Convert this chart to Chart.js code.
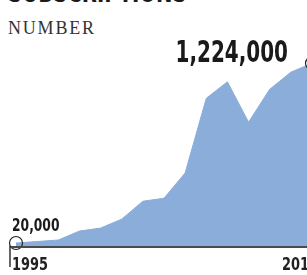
<!DOCTYPE html>
<html>
<head>
<meta charset="utf-8">
<script src="https://cdn.jsdelivr.net/npm/chart.js@4"></script>
<style>
  html, body { margin: 0; padding: 0; width: 307px; height: 275px; overflow: hidden; background: #fff; }
  #title {
    position: absolute; left: 8px; top: -21px; margin: 0;
    font: bold 27px/27px 'DejaVu Sans Condensed', 'Liberation Sans', sans-serif;
    color: #1a1a1a; white-space: nowrap;
    transform: scaleX(0.81); transform-origin: 0 0;
  }
  #unit {
    position: absolute; left: 8px; top: 19px;
    font: 18px/18px 'Liberation Serif', serif; letter-spacing: 1.8px;
    color: #333;
  }
  #growth { position: absolute; left: 0; top: 0; }
</style>
</head>
<body>
<div id="title">SUBSCRIPTIONS</div>
<div id="unit">NUMBER</div>
<canvas id="growth" width="330" height="275"></canvas>
<script>
// yearly subscriber counts
const years = ['1995', '1996', '1997', '1998', '1999', '2000', '2001', '2002',
               '2003', '2004', '2005', '2006', '2007', '2008', '2009'];
const subscribers = [20000, 30000, 40000, 100000, 120000, 180000, 300000, 320000,
                     490000, 990000, 1100000, 830000, 1050000, 1165000, 1224000];
const axisLabels = ['1995', '2010'];

const condensed = size => "bold " + size + "px 'DejaVu Sans Condensed', 'Liberation Sans', sans-serif";

// narrow text by squeezing horizontally around its anchor
function squeezeText(ctx, text, x, y, size, align, sx) {
  ctx.save();
  ctx.translate(x, y);
  ctx.scale(sx, 1);
  ctx.font = condensed(size);
  ctx.textAlign = align;
  ctx.textBaseline = 'alphabetic';
  ctx.fillText(text, 0, 0);
  ctx.restore();
}

const annotate = {
  id: 'annotate',
  afterDatasetsDraw(chart) {
    const ctx = chart.ctx;
    const area = chart.chartArea;
    const y0 = chart.scales.y.getPixelForValue(0);
    const pts = chart.getDatasetMeta(0).data;
    const first = pts[0], last = pts[pts.length - 1];

    ctx.save();
    // baseline
    ctx.strokeStyle = '#4a4a4a';
    ctx.lineWidth = 2;
    ctx.beginPath();
    ctx.moveTo(area.left - 6, y0 + 1);
    ctx.lineTo(chart.width, y0 + 1);
    ctx.stroke();
    // start tick
    ctx.lineWidth = 1.5;
    ctx.strokeStyle = '#333';
    ctx.beginPath();
    ctx.moveTo(area.left - 6, y0);
    ctx.lineTo(area.left - 6, y0 + 21);
    ctx.stroke();

    // year labels
    ctx.fillStyle = '#222';
    squeezeText(ctx, axisLabels[0], area.left - 4, y0 + 24, 18, 'left', 0.8);
    squeezeText(ctx, axisLabels[1], area.right + 6, y0 + 24, 18, 'right', 0.8);

    // value labels
    const fmt = v => v.toLocaleString('en-US');
    ctx.fillStyle = '#1a1a1a';
    squeezeText(ctx, fmt(subscribers[0]), first.x - 4, first.y - 12, 18, 'left', 0.76);
    squeezeText(ctx, fmt(subscribers[subscribers.length - 1]), last.x - 24, last.y - 1, 30, 'right', 0.74);
    ctx.restore();
  }
};

const endRadius = subscribers.map((v, i) => (i === 0 || i === subscribers.length - 1) ? 6.5 : 0);

new Chart(document.getElementById('growth'), {
  type: 'line',
  data: {
    labels: years,
    datasets: [{
      data: subscribers,
      fill: 'origin',
      backgroundColor: '#8aadd9',
      borderColor: '#8aadd9',
      borderWidth: 1,
      tension: 0,
      pointRadius: endRadius,
      pointBackgroundColor: 'rgba(0,0,0,0)',
      pointBorderColor: '#222',
      pointBorderWidth: 1.2,
      clip: false
    }]
  },
  options: {
    responsive: false,
    devicePixelRatio: 1,
    animation: false,
    layout: { padding: { left: 16, right: 18, top: 52, bottom: 29 } },
    plugins: { legend: { display: false }, tooltip: { enabled: false } },
    scales: {
      x: { display: false, offset: false },
      y: { display: false, min: 0, max: 1300000 }
    }
  },
  plugins: [annotate]
});
</script>
</body>
</html>
